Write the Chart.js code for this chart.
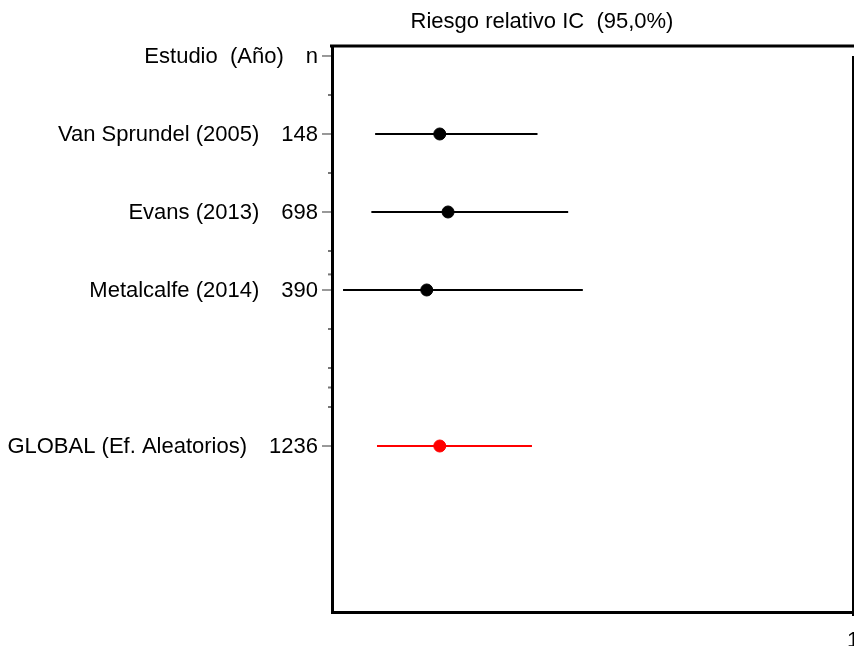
<!DOCTYPE html>
<html>
<head>
<meta charset="utf-8">
<script src="https://cdn.jsdelivr.net/npm/chart.js@4/dist/chart.umd.min.js"></script>
<style>
  html, body { margin: 0; padding: 0; background: #fff; }
  #wrap { width: 854px; height: 646px; }
</style>
</head>
<body>
<div id="wrap"><canvas id="c" width="854" height="646"></canvas></div>
<script>
// Forest plot: relative risk with 95% confidence intervals
const title = 'Riesgo relativo IC  (95,0%)';
const headerStudy = 'Estudio  (Año)';
const headerN = 'n';

const studies = ['Van Sprundel (2005)', 'Evans (2013)', 'Metalcalfe (2014)'];
const studyN = [148, 698, 390];
const studyRR = [0.161, 0.167, 0.152];
const studyLow = [0.121, 0.119, 0.105];
const studyHigh = [0.248, 0.284, 0.303];
const studyRows = [1, 2, 3];

const pooledLabel = 'GLOBAL (Ef. Aleatorios)';
const pooledN = 1236;
const pooledRR = 0.161;
const pooledLow = 0.122;
const pooledHigh = 0.242;
const pooledRow = 5;

const xTickValues = [1];
const yMajorTicks = [0, 1, 2, 3, 5];
const yMinorTicks = [0.5, 1.5, 2.5, 2.8, 3.5, 4, 4.25, 4.5];

const FAMILY = '"Liberation Sans", Arial, sans-serif';
const FONT = '22px ' + FAMILY;

const datasets = [];
studies.forEach((name, i) => {
  datasets.push({
    type: 'line',
    data: [{ x: studyLow[i], y: studyRows[i] }, { x: studyHigh[i], y: studyRows[i] }],
    borderColor: '#000', borderWidth: 2, pointRadius: 0, fill: false
  });
});
datasets.push({
  type: 'line',
  data: [{ x: pooledLow, y: pooledRow }, { x: pooledHigh, y: pooledRow }],
  borderColor: '#ff0000', borderWidth: 2, pointRadius: 0, fill: false
});
datasets.push({
  type: 'scatter',
  data: studies.map((s, i) => ({ x: studyRR[i], y: studyRows[i] })),
  backgroundColor: '#000', borderColor: '#000', pointRadius: 6, pointStyle: 'circle'
});
datasets.push({
  type: 'scatter',
  data: [{ x: pooledRR, y: pooledRow }],
  backgroundColor: '#ff0000', borderColor: '#ff0000', pointRadius: 6, pointStyle: 'circle'
});

const forestDecor = {
  id: 'forestDecor',
  afterDraw(chart) {
    const ctx = chart.ctx;
    const xs = chart.scales.x, ys = chart.scales.y;
    const area = chart.chartArea;
    ctx.save();

    // top frame line
    ctx.strokeStyle = '#000';
    ctx.lineWidth = 3;
    ctx.beginPath();
    ctx.moveTo(area.left - 2, area.top);
    ctx.lineTo(chart.width, area.top);
    ctx.stroke();

    // line of no effect (RR = 1)
    const x1 = xs.getPixelForValue(1);
    ctx.lineWidth = 2;
    ctx.beginPath();
    ctx.moveTo(x1, ys.getPixelForValue(0));
    ctx.lineTo(x1, area.bottom + 4);
    ctx.stroke();

    // y ticks
    ctx.strokeStyle = '#777';
    ctx.lineWidth = 1.5;
    yMajorTicks.forEach(v => {
      const y = ys.getPixelForValue(v);
      ctx.beginPath();
      ctx.moveTo(area.left - 10, y);
      ctx.lineTo(area.left - 1, y);
      ctx.stroke();
    });
    ctx.fillStyle = '#777';
    yMinorTicks.forEach(v => {
      const y = ys.getPixelForValue(v);
      ctx.fillRect(area.left - 4, y - 1, 3, 2);
    });

    // title
    ctx.fillStyle = '#000';
    ctx.font = FONT;
    ctx.textBaseline = 'middle';
    ctx.textAlign = 'center';
    ctx.fillText(title, 542, 22);

    // row labels: study name and sample size
    const nRight = 318, gap = 22;
    const drawRow = (name, n, row) => {
      const y = ys.getPixelForValue(row) + 1;
      const nText = String(n);
      ctx.textAlign = 'right';
      ctx.fillText(nText, nRight, y);
      const w = ctx.measureText(nText).width;
      ctx.fillText(name, nRight - w - gap, y);
    };
    drawRow(headerStudy, headerN, 0);
    studies.forEach((s, i) => drawRow(s, studyN[i], studyRows[i]));
    drawRow(pooledLabel, pooledN, pooledRow);

    ctx.restore();
  }
};

new Chart(document.getElementById('c'), {
  data: { datasets },
  options: {
    responsive: false,
    animation: false,
    events: [],
    layout: { autoPadding: false, padding: { top: 46, right: 1, left: 0, bottom: 0 } },
    plugins: { legend: { display: false }, tooltip: { enabled: false } },
    scales: {
      x: {
        type: 'logarithmic',
        position: 'bottom',
        min: 0.1,
        max: 1,
        afterBuildTicks: s => { s.ticks = xTickValues.map(v => ({ value: v })); },
        afterFit: s => { s.height = 34; s.paddingLeft = 0; s.paddingRight = 0; },
        ticks: {
          color: '#000',
          font: { family: FAMILY, size: 22 },
          padding: 12,
          maxRotation: 0,
          autoSkip: false,
          callback: v => String(v)
        },
        grid: { drawOnChartArea: false, drawTicks: true, tickLength: 4, color: '#000', lineWidth: 2 },
        border: { display: true, color: '#000', width: 3 }
      },
      y: {
        type: 'linear',
        reverse: true,
        min: -0.128,
        max: 7.128,
        afterFit: s => { s.width = 332; },
        ticks: { display: false },
        grid: { display: false, drawOnChartArea: false, drawTicks: false },
        border: { display: true, color: '#000', width: 3 }
      }
    }
  },
  plugins: [forestDecor]
});
</script>
</body>
</html>
